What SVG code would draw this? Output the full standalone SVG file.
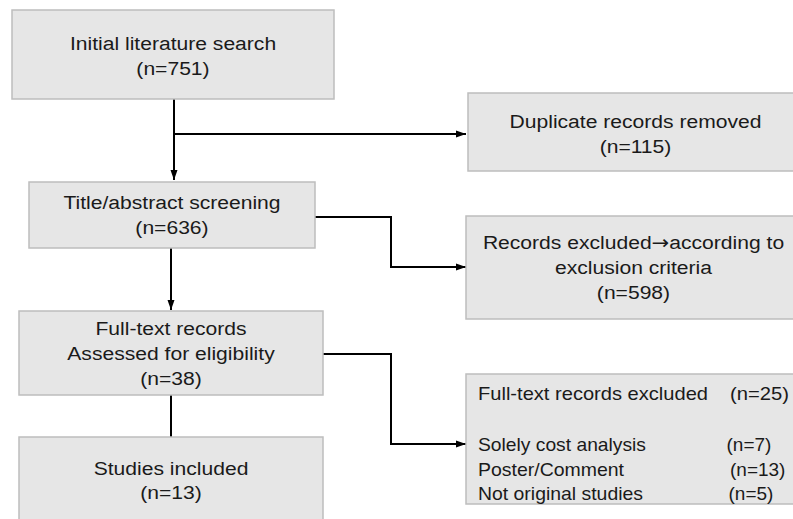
<svg xmlns="http://www.w3.org/2000/svg" width="793" height="519" viewBox="0 0 793 519">
<style>
.box{fill:#e6e6e6;stroke:#bdbdbd;stroke-width:1.5}
.t{font-family:"Liberation Sans",Arial,sans-serif;font-size:19px;fill:#1a1a1a}
.c{text-anchor:middle}
.ar{font-family:"Noto Sans","DejaVu Sans",sans-serif}
.ln{fill:none;stroke:#000;stroke-width:2}
</style>
<defs>
<marker id="ah" viewBox="0 0 10 10" refX="10" refY="5" markerWidth="5" markerHeight="5" orient="auto" markerUnits="strokeWidth">
<path d="M0,1.5 L10,5 L0,8.5 Z" fill="#000"/>
</marker>
</defs>
<rect width="793" height="519" fill="#fff"/>
<g id="connectors">
<path class="ln" d="M174,99 V180" marker-end="url(#ah)"/>
<path class="ln" d="M174,134 H466" marker-end="url(#ah)"/>
<path class="ln" d="M315,217 H391 V267 H466" marker-end="url(#ah)"/>
<path class="ln" d="M171,248 V310" marker-end="url(#ah)"/>
<path class="ln" d="M323,354 H391 V444 H466" marker-end="url(#ah)"/>
<path class="ln" d="M171,395 V437"/>
</g>
<g id="n1">
<rect class="box" x="12" y="10" width="322" height="89"/>
<g transform="translate(173 0) scale(1.11 1)"><text class="t c" x="0" y="50">Initial literature search</text><text class="t c" x="0" y="75">(n=751)</text></g>
</g>
<g id="n2">
<rect class="box" x="468" y="93" width="340" height="78"/>
<g transform="translate(635.5 0) scale(1.11 1)"><text class="t c" x="0" y="128">Duplicate records removed</text><text class="t c" x="0" y="153">(n=115)</text></g>
</g>
<g id="n3">
<rect class="box" x="29" y="182" width="286" height="66"/>
<g transform="translate(172 0) scale(1.11 1)"><text class="t c" x="0" y="209.5">Title/abstract screening</text><text class="t c" x="0" y="234.5">(n=636)</text></g>
</g>
<g id="n4">
<rect class="box" x="466" y="216" width="340" height="103"/>
<g transform="translate(633.5 0) scale(1.11 1)"><text class="t c" x="0" y="249">Records excluded<tspan class="ar">→</tspan>according to</text><text class="t c" x="0" y="274">exclusion criteria</text><text class="t c" x="0" y="299">(n=598)</text></g>
</g>
<g id="n5">
<rect class="box" x="19" y="311" width="304" height="84"/>
<g transform="translate(171 0) scale(1.11 1)"><text class="t c" x="0" y="335">Full-text records</text><text class="t c" x="0" y="360.5">Assessed for eligibility</text><text class="t c" x="0" y="385">(n=38)</text></g>
</g>
<g id="n6">
<rect class="box" x="466" y="374" width="340" height="130"/>
<text class="t" x="478" y="400" textLength="230" lengthAdjust="spacingAndGlyphs">Full-text records excluded</text><text class="t" x="730" y="400" textLength="59" lengthAdjust="spacingAndGlyphs">(n=25)</text>
<text class="t" x="478" y="451" textLength="168" lengthAdjust="spacingAndGlyphs">Solely cost analysis</text><text class="t" x="726.5" y="451">(n=7)</text>
<text class="t" x="478" y="476" textLength="146" lengthAdjust="spacingAndGlyphs">Poster/Comment</text><text class="t" x="730" y="476">(n=13)</text>
<text class="t" x="478" y="500" textLength="165" lengthAdjust="spacingAndGlyphs">Not original studies</text><text class="t" x="728.5" y="500">(n=5)</text>
</g>
<g id="n7">
<rect class="box" x="19" y="437" width="304" height="100"/>
<g transform="translate(171 0) scale(1.11 1)"><text class="t c" x="0" y="475">Studies included</text><text class="t c" x="0" y="499.5">(n=13)</text></g>
</g>
</svg>
